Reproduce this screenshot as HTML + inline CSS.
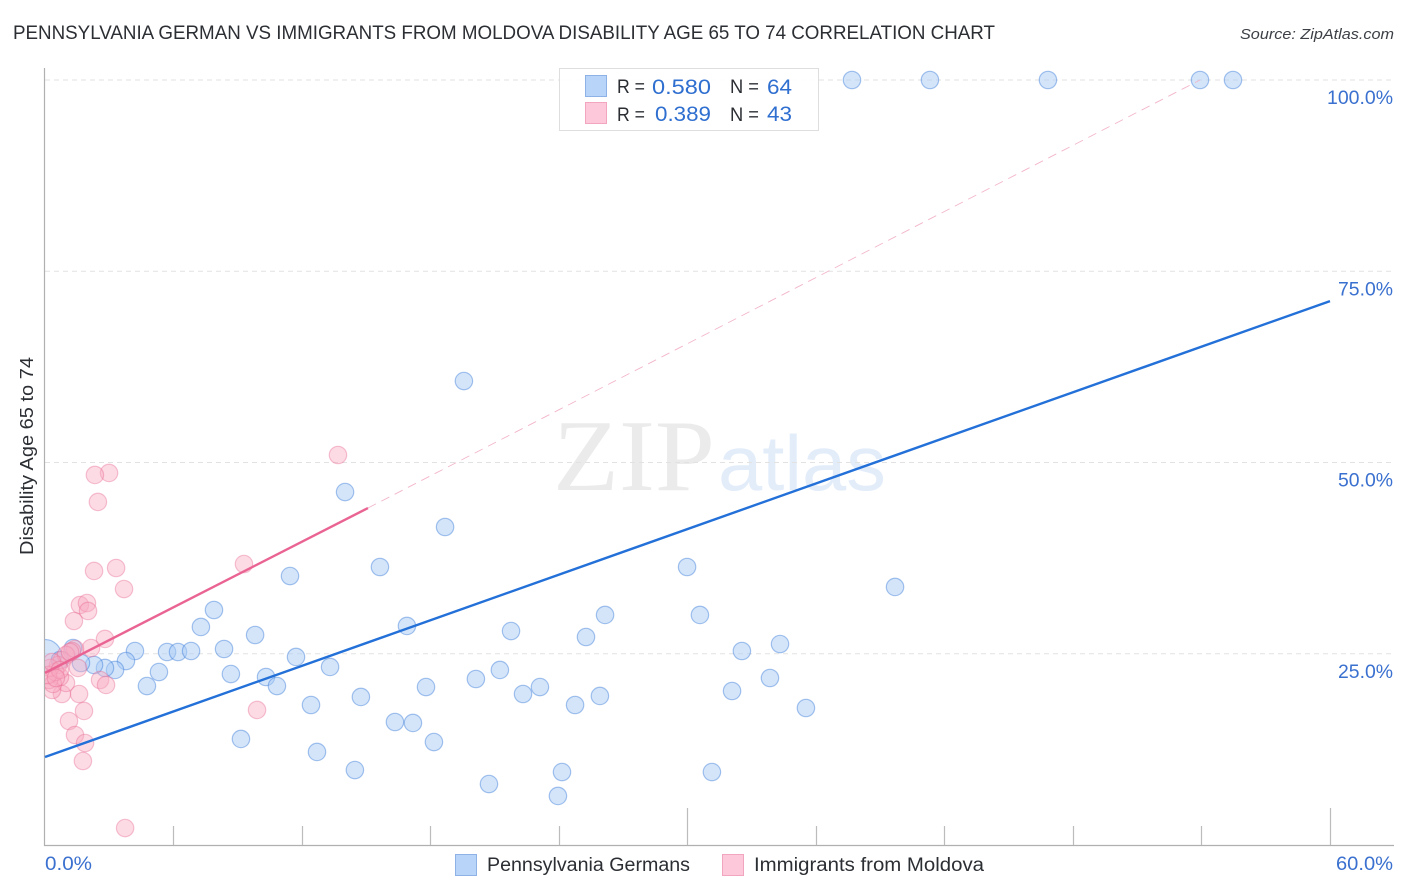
<!DOCTYPE html>
<html lang="en">
<head>
<meta charset="utf-8">
<title>Pennsylvania German vs Immigrants from Moldova Disability Age 65 to 74 Correlation Chart</title>
<style>
html,body{margin:0;padding:0;background:#fff;width:1406px;height:892px;overflow:hidden}
svg{display:block;font-family:"Liberation Sans",sans-serif}
</style>
</head>
<body>
<svg id="chart" width="1406" height="892" viewBox="0 0 1406 892" xmlns="http://www.w3.org/2000/svg">
  <defs>
    <clipPath id="plot-clip"><rect x="45" y="60" width="1349" height="785"/></clipPath>
  </defs>
  <text x="13" y="39" font-size="19" fill="#2b2e33" textLength="982" lengthAdjust="spacingAndGlyphs">PENNSYLVANIA GERMAN VS IMMIGRANTS FROM MOLDOVA DISABILITY AGE 65 TO 74 CORRELATION CHART</text>
  <text x="1240" y="39" font-size="15" font-style="italic" fill="#3c4046" textLength="154" lengthAdjust="spacingAndGlyphs">Source: ZipAtlas.com</text>

  <g>
    <text x="553" y="490" font-family="'Liberation Serif',serif" font-size="102" fill="#ebebeb" textLength="162" lengthAdjust="spacingAndGlyphs">ZIP</text>
    <text x="718" y="490" font-size="78" fill="#e3edfa" textLength="168" lengthAdjust="spacingAndGlyphs">atlas</text>
  </g>

  <g id="grid"></g>
  <g id="axes"></g>
  <g id="blue-points" clip-path="url(#plot-clip)"></g>
  <g id="pink-points" clip-path="url(#plot-clip)"></g>
  <g id="trends"></g>
  <g id="tick-labels"></g>

  <text transform="translate(33,456) rotate(-90)" font-size="18" fill="#2b2e33" text-anchor="middle" textLength="198" lengthAdjust="spacingAndGlyphs">Disability Age 65 to 74</text>

  <g>
    <rect x="559.5" y="68.5" width="259" height="62" fill="#fff" fill-opacity="0.9" stroke="#dedede"/>
    <rect x="585.5" y="75.5" width="21" height="21" fill="#b8d4f8" stroke="#8fb2e6"/>
    <rect x="585.5" y="102.5" width="21" height="21" fill="#fdc8d9" stroke="#f2a5bf"/>
    <text x="617" y="93" font-size="19" fill="#2b2e33" textLength="28" lengthAdjust="spacingAndGlyphs">R =</text>
    <text x="652" y="94" font-size="21" fill="#2f6fd0" textLength="59" lengthAdjust="spacingAndGlyphs">0.580</text>
    <text x="730" y="93" font-size="19" fill="#2b2e33" textLength="29" lengthAdjust="spacingAndGlyphs">N =</text>
    <text x="767" y="94" font-size="21" fill="#2f6fd0" textLength="25" lengthAdjust="spacingAndGlyphs">64</text>
    <text x="617" y="121" font-size="19" fill="#2b2e33" textLength="28" lengthAdjust="spacingAndGlyphs">R =</text>
    <text x="655" y="121" font-size="21" fill="#2f6fd0" textLength="56" lengthAdjust="spacingAndGlyphs">0.389</text>
    <text x="730" y="121" font-size="19" fill="#2b2e33" textLength="29" lengthAdjust="spacingAndGlyphs">N =</text>
    <text x="767" y="121" font-size="21" fill="#2f6fd0" textLength="25" lengthAdjust="spacingAndGlyphs">43</text>
  </g>

  <g>
    <rect x="455.5" y="854.5" width="21" height="21" fill="#b8d4f8" stroke="#8fb2e6"/>
    <text x="487" y="871" font-size="19" fill="#2b2e33" textLength="203" lengthAdjust="spacingAndGlyphs">Pennsylvania Germans</text>
    <rect x="722.5" y="854.5" width="21" height="21" fill="#fdc8d9" stroke="#f2a5bf"/>
    <text x="754" y="871" font-size="19" fill="#2b2e33" textLength="230" lengthAdjust="spacingAndGlyphs">Immigrants from Moldova</text>
  </g>
</svg>
<script>
const blueX = [37.68,41.32,46.83,53.93,55.47,19.56,14.01,18.68,15.64,11.44,29.98,39.69,7.89,7.28,26.15,30.58,16.90,21.76,25.26,9.81,34.32,32.54,8.36,4.20,5.70,6.21,6.82,11.72,13.31,21.24,5.32,8.68,10.32,10.83,20.12,33.85,17.79,23.11,4.76,22.32,25.91,14.75,32.08,12.42,24.75,35.53,16.34,17.18,9.15,18.16,12.70,14.47,20.73,24.14,31.14,23.95,3.78,3.27,2.80,2.29,1.68,1.31,0.70];
const blueY = [100,100,100,100,100,60.65,46.14,41.57,36.34,35.16,36.34,33.73,30.72,28.50,30.07,30.07,28.63,27.97,27.19,27.45,26.27,25.36,25.62,25.36,25.23,25.23,25.36,24.58,23.27,22.88,22.61,22.35,21.96,20.78,21.70,21.83,20.65,20.65,20.78,19.74,19.48,19.35,20.13,18.30,18.30,17.91,16.08,15.95,13.86,13.46,12.16,9.80,7.97,9.54,9.54,6.41,24.05,22.88,23.14,23.53,23.79,25.75,24.18];
const blueClusterX = [0];
const blueClusterY = [24.71];
const pinkX = [13.68,2.99,2.33,2.47,9.29,2.29,3.32,3.69,1.63,1.96,2.01,1.35,2.80,2.15,1.40,1.26,9.90,1.82,1.12,1.40,1.87,1.77,3.74,1.59,0.79,2.57,2.85,1.54,0.98,0.70,0.33,0.19,0.37,0.79,0.61,0.47,0.23,0.98,1.17,0.14,0.33,0.70,0.51];
const pinkY = [50.98,48.63,48.37,44.84,36.73,35.82,36.21,33.46,31.37,31.63,30.59,29.28,26.93,25.75,25.62,25.36,17.65,17.52,16.21,14.38,13.33,10.98,2.22,19.74,19.74,21.57,20.92,23.14,21.18,21.96,20.26,21.57,21.05,24.18,23.53,22.61,23.14,24.84,25.23,22.22,23.92,22.88,21.83];
const blueTrendX = [0,60];
const blueTrendY = [11.5,71.1];
const pinkTrendX = [0,15.08];
const pinkTrendY = [22.5,44.05];
const pinkDashX = [15.08,53.93];
const pinkDashY = [44.05,100];
const yTicks = [25,50,75,100];
const yTickLabels = ["25.0%","50.0%","75.0%","100.0%"];
const xTicks = [6,12,18,24,30,36,42,48,54,60];
const majorXTicks = [30,60];
const xTickLabels = ["0.0%","60.0%"];

const NS = "http://www.w3.org/2000/svg";
function xScale(v){ return 45 + v * (1285 / 60); }
function yScale(v){ return 845 - v * 7.65; }
function make(parent, tag, attrs){
  const el = document.createElementNS(NS, tag);
  for (const k in attrs) el.setAttribute(k, attrs[k]);
  parent.appendChild(el);
  return el;
}
const grid = document.getElementById("grid");
const axes = document.getElementById("axes");
const labels = document.getElementById("tick-labels");
const trends = document.getElementById("trends");
const bluePts = document.getElementById("blue-points");
const pinkPts = document.getElementById("pink-points");

yTicks.forEach(function(t, i){
  const line = make(grid, "line", {x1:45, x2:1394, y1:yScale(t), y2:yScale(t), stroke:"#e2e2e2", "stroke-width":1, "stroke-dasharray":"5 4"});
  
  
  const w = yTickLabels[i].length > 5 ? 66 : 55;
  const label = make(labels, "text", {x:1393 - w, y:yScale(t) + 24, "font-size":19, fill:"#3a70cf", textLength:w, lengthAdjust:"spacingAndGlyphs"});
  
  
  label.textContent = yTickLabels[i];
});

const yAxis = make(axes, "line", {x1:44.5, x2:44.5, y1:68, y2:846, stroke:"#b0b0b0", "stroke-width":1.2});


const xAxis = make(axes, "line", {x1:44, x2:1394, y1:845.5, y2:845.5, stroke:"#b0b0b0", "stroke-width":1.2});


xTicks.forEach(function(t){
  const top = majorXTicks.indexOf(t) >= 0 ? 808 : 826;
  const tx = Math.floor(xScale(t)) + 0.5;
  const tick = make(axes, "line", {x1:tx, x2:tx, y1:top, y2:845, stroke:"#bcbcbc", "stroke-width":1.2});
  
  
});

const x0 = make(labels, "text", {x:45, y:870, "font-size":19, fill:"#3a70cf", textLength:47, lengthAdjust:"spacingAndGlyphs"});


x0.textContent = xTickLabels[0];
const x1 = make(labels, "text", {x:1336, y:870, "font-size":19, fill:"#3a70cf", textLength:57, lengthAdjust:"spacingAndGlyphs"});


x1.textContent = xTickLabels[1];

blueClusterX.forEach(function(v, i){
  const c = make(bluePts, "circle", {cx:xScale(v), cy:yScale(blueClusterY[i]), r:16.5, fill:"#a9cbf5", "fill-opacity":0.5, stroke:"#2f74d6", "stroke-opacity":0.42, "stroke-width":1.2});
  
  
});
blueX.forEach(function(v, i){
  const c = make(bluePts, "circle", {cx:xScale(v), cy:yScale(blueY[i]), r:8.7, fill:"#a9cbf5", "fill-opacity":0.5, stroke:"#2f74d6", "stroke-opacity":0.42, "stroke-width":1.2});
  
  
});
pinkX.forEach(function(v, i){
  const c = make(pinkPts, "circle", {cx:xScale(v), cy:yScale(pinkY[i]), r:8.7, fill:"#f9a9c2", "fill-opacity":0.42, stroke:"#e8648f", "stroke-opacity":0.38, "stroke-width":1.2});
  
  
});

const pd = make(trends, "line", {x1:xScale(pinkDashX[0]), y1:yScale(pinkDashY[0]), x2:xScale(pinkDashX[1]), y2:yScale(pinkDashY[1]), stroke:"#f3b6ca", "stroke-width":0.9, "stroke-dasharray":"9 6"});


const pt = make(trends, "line", {x1:xScale(pinkTrendX[0]), y1:yScale(pinkTrendY[0]), x2:xScale(pinkTrendX[1]), y2:yScale(pinkTrendY[1]), stroke:"#ea6493", "stroke-width":2.4});


const bt = make(trends, "line", {x1:xScale(blueTrendX[0]), y1:yScale(blueTrendY[0]), x2:xScale(blueTrendX[1]), y2:yScale(blueTrendY[1]), stroke:"#2370d8", "stroke-width":2.4});


</script>
</body>
</html>
